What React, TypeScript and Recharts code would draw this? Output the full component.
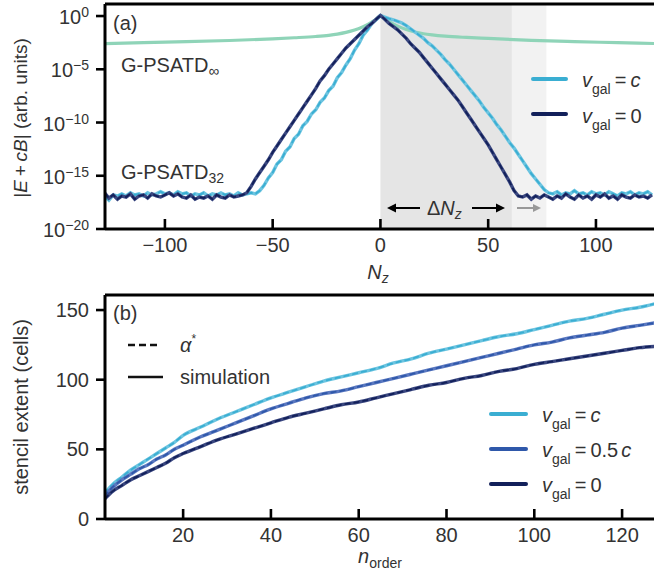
import React from 'react';
import {
  LineChart, Line, XAxis, YAxis, ReferenceArea, ReferenceLine
} from 'recharts';

// ---- panel (a): log10 |E + cB| versus N_z ----
const nz = [
  -128, -126, -124, -122, -120, -118, -116, -114, -112, -110,
  -108, -106, -104, -102, -100, -98, -96, -94, -92, -90,
  -88, -86, -84, -82, -80, -78, -76, -74, -72, -70,
  -68, -66, -64, -62, -60, -58, -56, -54, -52, -50,
  -48, -46, -44, -42, -40, -38, -36, -34, -32, -30,
  -28, -26, -24, -22, -20, -18, -16, -14, -12, -10,
  -8, -6, -4, -2, 0, 2, 4, 6, 8, 10,
  12, 14, 16, 18, 20, 22, 24, 26, 28, 30,
  32, 34, 36, 38, 40, 42, 44, 46, 48, 50,
  52, 54, 56, 58, 60, 62, 64, 66, 68, 70,
  72, 74, 76, 78, 80, 82, 84, 86, 88, 90,
  92, 94, 96, 98, 100, 102, 104, 106, 108, 110,
  112, 114, 116, 118, 120, 122, 124, 126,
];

// v_gal = 0 (exponents)
const logV0 = [
  -16.6, -17.1, -16.8, -17.2, -16.9, -17.0, -16.7, -17.2, -16.9, -16.8,
  -17.1, -16.7, -16.9, -17.0, -16.8, -16.6, -16.9, -16.7, -17.0, -17.1,
  -16.8, -17.2, -17.0, -17.1, -16.9, -17.2, -16.8, -17.0, -17.1, -16.8,
  -17.0, -16.9, -16.8, -16.6, -16.0, -15.3, -14.7, -14.1, -13.5, -12.8,
  -12.2, -11.6, -11.0, -10.4, -9.8, -9.2, -8.6, -8.0, -7.4, -6.8,
  -6.1, -5.6, -5.0, -4.5, -4.0, -3.5, -3.0, -2.6, -2.2, -1.8,
  -1.4, -1.0, -0.7, -0.3, 0.05, -0.3, -0.7, -1.0, -1.3, -1.7,
  -2.1, -2.6, -3.0, -3.4, -3.9, -4.4, -4.9, -5.4, -5.9, -6.4,
  -6.9, -7.4, -7.9, -8.5, -9.1, -9.7, -10.3, -10.9, -11.5, -12.1,
  -12.8, -13.5, -14.2, -14.9, -15.6, -16.4, -16.9, -17.0, -16.8, -17.2,
  -16.9, -17.1, -16.8, -17.0, -17.2, -16.9, -17.1, -16.7, -17.0, -17.2,
  -16.8, -17.1, -16.9, -17.2, -16.8, -17.0, -16.7, -17.1, -16.9, -17.2,
  -16.8, -17.0, -17.1, -16.8, -17.0, -16.9, -17.1, -16.8,
];

// v_gal = c (exponents)
const logVc = [
  -16.9, -17.3, -16.8, -16.9, -16.7, -16.9, -16.6, -16.8, -16.7, -16.9,
  -16.6, -16.8, -16.7, -16.5, -16.7, -16.6, -16.8, -16.5, -16.7, -16.6,
  -16.9, -16.7, -16.8, -16.6, -16.9, -16.7, -16.8, -16.6, -16.8, -16.7,
  -16.9, -16.6, -16.8, -16.7, -16.6, -16.7, -16.4, -15.9, -15.2, -14.7,
  -13.9, -13.5, -12.7, -12.3, -11.5, -11.1, -10.3, -9.9, -9.2, -8.8,
  -8.1, -7.7, -7.0, -6.6, -5.8, -5.3, -4.6, -4.0, -3.2, -2.6,
  -1.8, -1.3, -0.7, -0.35, 0.05, -0.1, -0.25, -0.35, -0.5, -0.65,
  -0.9, -1.2, -1.5, -1.8, -2.1, -2.5, -2.8, -3.2, -3.6, -4.1,
  -4.5, -5.0, -5.5, -6.0, -6.5, -7.0, -7.5, -8.0, -8.6, -9.1,
  -9.6, -10.2, -10.7, -11.3, -11.9, -12.4, -13.0, -13.6, -14.2, -14.8,
  -15.3, -15.8, -16.3, -16.6, -16.7, -16.5, -16.8, -16.6, -16.7, -16.4,
  -16.7, -16.6, -16.8, -16.5, -16.7, -16.6, -16.8, -16.5, -16.7, -16.9,
  -16.6, -16.7, -16.5, -16.8, -16.6, -16.7, -16.5, -16.8,
];

// G-PSATD infinite order
const infX = [-128, -110, -90, -70, -50, -40, -30, -24, -20, -16, -12, -8, -4, -2, 0, 2, 4, 8, 12, 16, 20, 24, 30, 40, 50, 70, 90, 110, 127];
const infLog = [-2.6, -2.5, -2.41, -2.3, -2.14, -2.04, -1.92, -1.81, -1.7, -1.54, -1.32, -1.0, -0.56, -0.3, 0.05, -0.28, -0.52, -0.95, -1.27, -1.5, -1.66, -1.77, -1.89, -2.01, -2.1, -2.28, -2.4, -2.5, -2.58];

const logTicks = [-20, -15, -10, -5, 0];
const nzTicks = [-100, -50, 0, 50, 100];

// ---- panel (b): stencil extent versus n_order ----
const nOrder = [2, 4, 6, 8, 10, 12, 14, 16, 18, 20, 24, 28, 32, 36, 40, 44, 48, 52, 56, 60, 64, 68, 72, 76, 80, 84, 88, 92, 96, 100, 104, 108, 112, 116, 120, 124, 128];
const extC = [18, 25, 30, 35, 39, 43, 47, 51, 55, 60, 66, 72, 77, 82, 87, 91, 95, 99, 102, 105, 108, 112, 115, 119, 122, 125, 128, 131, 133, 136, 139, 142, 144, 147, 150, 152, 155];
const extHalf = [16, 23, 28, 32, 36, 39, 43, 46, 50, 53, 59, 64, 69, 74, 79, 83, 87, 90, 92, 95, 98, 101, 104, 107, 110, 113, 116, 119, 122, 125, 127, 130, 132, 134, 137, 139, 141];
const ext0 = [14, 20, 24, 28, 31, 34, 37, 40, 44, 47, 52, 57, 61, 65, 69, 73, 76, 79, 82, 84, 87, 90, 93, 96, 98, 101, 103, 106, 108, 111, 113, 115, 117, 119, 121, 123, 124];

const extTicksY = [0, 50, 100, 150];
const extTicksX = [20, 40, 60, 80, 100, 120];

const FONT = '"Liberation Sans", Arial, sans-serif';
const TXT = '#333';
const COL_C = '#3aaed2';
const COL_C_SOLID = '#6cc4e0';
const COL_HALF = '#2f58aa';
const COL_HALF_SOLID = '#5a78c0';
const COL_0 = '#12205a';
const COL_0_SOLID = '#3a4780';
const COL_INF = '#8fd4b8';

const tableA = nz.map((x, i) => ({ x, v0: logV0[i], vc: logVc[i] }));
const tableInf = infX.map((x, i) => ({ x, inf: infLog[i] }));
const tableB = nOrder.map((n, i) => ({ n, c: extC[i], half: extHalf[i], zero: ext0[i] }));

const minus = (v: number) => (v < 0 ? '\u2212' + Math.abs(v) : String(v));

const XTick = (props: any) => {
  const { x, y, payload } = props;
  return (
    <g>
      <line x1={x} x2={x} y1={y} y2={y - 10} stroke="#000" strokeWidth={2.6} />
      <text x={x} y={y + 23} textAnchor="middle" fontSize={20} fill={TXT} fontFamily={FONT}>
        {minus(payload.value)}
      </text>
    </g>
  );
};

const LogTick = (props: any) => {
  const { x, y, payload } = props;
  return (
    <text x={x} y={y + 8} textAnchor="end" fontSize={20} fill={TXT} fontFamily={FONT}>
      <tspan>10</tspan>
      <tspan dy={-7} fontSize={14}>{minus(payload.value)}</tspan>
    </text>
  );
};

const LinTick = (props: any) => {
  const { x, y, payload } = props;
  return (
    <text x={x} y={y + 7} textAnchor="end" fontSize={20} fill={TXT} fontFamily={FONT}>
      {payload.value}
    </text>
  );
};

const VLabel = ({ x, y, rhs }: { x: number; y: number; rhs: React.ReactNode }) => (
  <text x={x} y={y} fontSize={20} fill={TXT} fontFamily={FONT}>
    <tspan fontStyle="italic">v</tspan>
    <tspan fontSize={14} dy={7}>gal</tspan>
    <tspan dy={-7} dx={4}>=</tspan>
    {rhs}
  </text>
);

const Annotations = () => (
  <svg width={654} height={576} style={{ position: 'absolute', left: 0, top: 0, pointerEvents: 'none' }}>
    {/* axis titles */}
    <text transform="translate(27,118) rotate(-90)" textAnchor="middle" fontSize={19} fill={TXT} fontFamily={FONT}>
      |<tspan fontStyle="italic">E</tspan>{'\u2009+\u2009'}<tspan fontStyle="italic">cB</tspan>| (arb. units)
    </text>
    <text transform="translate(28,407) rotate(-90)" textAnchor="middle" fontSize={20} fill={TXT} fontFamily={FONT}>
      stencil extent (cells)
    </text>
    <text x={378} y={279} textAnchor="middle" fontSize={20} fill={TXT} fontFamily={FONT}>
      <tspan fontStyle="italic">N</tspan>
      <tspan fontSize={14} dy={4} fontStyle="italic">z</tspan>
    </text>
    <text x={380} y={563} textAnchor="middle" fontSize={20} fill={TXT} fontFamily={FONT}>
      <tspan fontStyle="italic">n</tspan>
      <tspan fontSize={14} dy={5}>order</tspan>
    </text>

    {/* panel (a) */}
    <text x={113} y={30} fontSize={20} fill={TXT} fontFamily={FONT}>(a)</text>
    <text x={121} y={72} fontSize={20} fill={TXT} fontFamily={FONT}>
      G-PSATD<tspan fontSize={15} dy={4}>∞</tspan>
    </text>
    <text x={121} y={179} fontSize={20} fill={TXT} fontFamily={FONT}>
      G-PSATD<tspan fontSize={14} dy={4}>32</tspan>
    </text>
    <line x1={533} x2={566} y1={79} y2={79} stroke={COL_C} strokeWidth={4} strokeLinecap="round" />
    <VLabel x={582} y={87} rhs={<tspan dx={4} fontStyle="italic">c</tspan>} />
    <line x1={533} x2={566} y1={114} y2={114} stroke={COL_0} strokeWidth={4} strokeLinecap="round" />
    <VLabel x={582} y={123} rhs={<tspan dx={4}>0</tspan>} />

    {/* Delta N_z arrows */}
    <line x1={392} x2={420} y1={208} y2={208} stroke="#000" strokeWidth={2} />
    <path d="M387,208 L396,203.5 L396,212.5 Z" fill="#000" />
    <text x={427} y={215} fontSize={20} fill={TXT} fontFamily={FONT}>
      Δ<tspan fontStyle="italic">N</tspan><tspan fontSize={14} dy={4} fontStyle="italic">z</tspan>
    </text>
    <line x1={472} x2={500} y1={208} y2={208} stroke="#000" strokeWidth={2} />
    <path d="M505,208 L496,203.5 L496,212.5 Z" fill="#000" />
    <line x1={517} x2={536} y1={208} y2={208} stroke="#999" strokeWidth={2} />
    <path d="M541,208 L533,204 L533,212 Z" fill="#999" />

    {/* panel (b) */}
    <text x={113} y={320} fontSize={20} fill={TXT} fontFamily={FONT}>(b)</text>
    <line x1={128} x2={158} y1={345} y2={345} stroke="#111" strokeWidth={2.5} strokeDasharray="7 4" />
    <text x={180} y={352} fontSize={20} fill={TXT} fontFamily={FONT}>
      <tspan fontStyle="italic">α</tspan><tspan fontSize={12} dy={-9}>*</tspan>
    </text>
    <line x1={128} x2={163} y1={377} y2={377} stroke="#111" strokeWidth={2.5} />
    <text x={180} y={384} fontSize={20} fill={TXT} fontFamily={FONT}>simulation</text>

    <line x1={491} x2={526} y1={414} y2={414} stroke={COL_C} strokeWidth={4} strokeLinecap="round" />
    <VLabel x={542} y={422} rhs={<tspan dx={4} fontStyle="italic">c</tspan>} />
    <line x1={491} x2={526} y1={449} y2={449} stroke={COL_HALF} strokeWidth={4} strokeLinecap="round" />
    <VLabel x={542} y={457} rhs={<><tspan dx={4}>0.5</tspan><tspan dx={3} fontStyle="italic">c</tspan></>} />
    <line x1={491} x2={526} y1={484} y2={484} stroke={COL_0} strokeWidth={4} strokeLinecap="round" />
    <VLabel x={542} y={492} rhs={<tspan dx={4}>0</tspan>} />
  </svg>
);

export default function App() {
  return (
    <div style={{ position: 'absolute', left: 0, top: 0, width: 654, height: 576, overflow: 'hidden', background: '#fff', fontFamily: FONT }}>
      <div style={{ position: 'absolute', left: 0, top: 0 }}>
        <LineChart width={660} height={290} data={tableA} margin={{ top: 4, right: 5, bottom: 0, left: 0 }}>
          <XAxis
            dataKey="x" type="number" domain={[-127.8, 127.4]} allowDataOverflow ticks={nzTicks}
            height={61} tickSize={0} tickMargin={0} tickLine={false}
            axisLine={{ stroke: '#000', strokeWidth: 3 }} tick={<XTick />} interval={0}
          />
          <YAxis
            type="number" domain={[-20, 1.13]} allowDataOverflow ticks={logTicks} width={105}
            tickSize={9} tickMargin={7} tickLine={{ stroke: '#000', strokeWidth: 2.6 }}
            axisLine={{ stroke: '#000', strokeWidth: 3 }} tick={<LogTick />} interval={0}
          />
          <ReferenceArea x1={0} x2={61} fill="#e5e5e5" fillOpacity={1} stroke="none" />
          <ReferenceArea x1={61} x2={77} fill="#f2f2f2" fillOpacity={1} stroke="none" />
          <Line data={tableInf} dataKey="inf" type="monotone" stroke={COL_INF} strokeWidth={3.2} dot={false} isAnimationActive={false} />
          <Line dataKey="vc" type="linear" stroke={COL_C_SOLID} strokeWidth={3.4} dot={false} isAnimationActive={false} />
          <Line dataKey="vc" type="linear" stroke={COL_C} strokeWidth={1.8} strokeDasharray="6 3" dot={false} isAnimationActive={false} />
          <Line dataKey="v0" type="linear" stroke={COL_0_SOLID} strokeWidth={3.4} dot={false} isAnimationActive={false} />
          <Line dataKey="v0" type="linear" stroke={COL_0} strokeWidth={1.8} strokeDasharray="6 3" dot={false} isAnimationActive={false} />
          <ReferenceLine y={1.13} stroke="#000" strokeWidth={3} />
        </LineChart>
      </div>
      <div style={{ position: 'absolute', left: 0, top: 290 }}>
        <LineChart width={660} height={286} data={tableB} margin={{ top: 5, right: 5, bottom: 0, left: 0 }}>
          <XAxis
            dataKey="n" type="number" domain={[2.2, 127.5]} allowDataOverflow ticks={extTicksX}
            height={57} tickSize={0} tickMargin={0} tickLine={false}
            axisLine={{ stroke: '#000', strokeWidth: 3 }} tick={<XTick />} interval={0}
          />
          <YAxis
            type="number" domain={[0, 160.8]} allowDataOverflow ticks={extTicksY} width={105}
            tickSize={9} tickMargin={7} tickLine={{ stroke: '#000', strokeWidth: 2.6 }}
            axisLine={{ stroke: '#000', strokeWidth: 3 }} tick={<LinTick />} interval={0}
          />
          <Line dataKey="c" type="monotone" stroke={COL_C_SOLID} strokeWidth={3.4} dot={false} isAnimationActive={false} />
          <Line dataKey="c" type="monotone" stroke={COL_C} strokeWidth={1.8} strokeDasharray="6 3" dot={false} isAnimationActive={false} />
          <Line dataKey="half" type="monotone" stroke={COL_HALF_SOLID} strokeWidth={3.4} dot={false} isAnimationActive={false} />
          <Line dataKey="half" type="monotone" stroke={COL_HALF} strokeWidth={1.8} strokeDasharray="6 3" dot={false} isAnimationActive={false} />
          <Line dataKey="zero" type="monotone" stroke={COL_0_SOLID} strokeWidth={3.4} dot={false} isAnimationActive={false} />
          <Line dataKey="zero" type="monotone" stroke={COL_0} strokeWidth={1.8} strokeDasharray="6 3" dot={false} isAnimationActive={false} />
          <ReferenceLine y={160.8} stroke="#000" strokeWidth={3} />
        </LineChart>
      </div>
      <Annotations />
    </div>
  );
}
